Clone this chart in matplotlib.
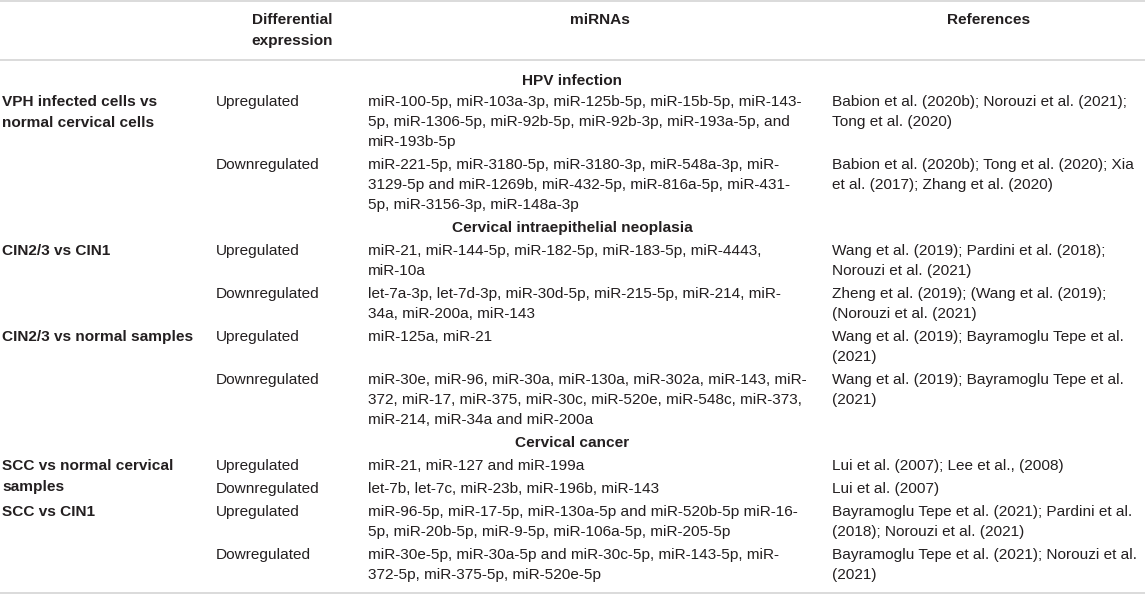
import matplotlib
matplotlib.use('Agg')

import matplotlib.pyplot as plt

# Table content
header_cols = ["", "Differential\nexpression", "miRNAs", "References"]

sections = ["HPV infection", "Cervical intraepithelial neoplasia", "Cervical cancer"]

row_section = [0, 0, 1, 1, 1, 1, 2, 2, 2, 2]

row_group = [
    "VPH infected cells vs\nnormal cervical cells",
    "",
    "CIN2/3 vs CIN1",
    "",
    "CIN2/3 vs normal samples",
    "",
    "SCC vs normal cervical\nsamples",
    "",
    "SCC vs CIN1",
    "",
]

row_expression = [
    "Upregulated", "Downregulated",
    "Upregulated", "Downregulated",
    "Upregulated", "Downregulated",
    "Upregulated", "Downregulated",
    "Upregulated", "Dowregulated",
]

row_mirnas = [
    "miR-100-5p, miR-103a-3p, miR-125b-5p, miR-15b-5p, miR-143-\n"
    "5p, miR-1306-5p, miR-92b-5p, miR-92b-3p, miR-193a-5p, and\n"
    "miR-193b-5p",
    "miR-221-5p, miR-3180-5p, miR-3180-3p, miR-548a-3p, miR-\n"
    "3129-5p and miR-1269b, miR-432-5p, miR-816a-5p, miR-431-\n"
    "5p, miR-3156-3p, miR-148a-3p",
    "miR-21, miR-144-5p, miR-182-5p, miR-183-5p, miR-4443,\n"
    "miR-10a",
    "let-7a-3p, let-7d-3p, miR-30d-5p, miR-215-5p, miR-214, miR-\n"
    "34a, miR-200a, miR-143",
    "miR-125a, miR-21",
    "miR-30e, miR-96, miR-30a, miR-130a, miR-302a, miR-143, miR-\n"
    "372, miR-17, miR-375, miR-30c, miR-520e, miR-548c, miR-373,\n"
    "miR-214, miR-34a and miR-200a",
    "miR-21, miR-127 and miR-199a",
    "let-7b, let-7c, miR-23b, miR-196b, miR-143",
    "miR-96-5p, miR-17-5p, miR-130a-5p and miR-520b-5p miR-16-\n"
    "5p, miR-20b-5p, miR-9-5p, miR-106a-5p, miR-205-5p",
    "miR-30e-5p, miR-30a-5p and miR-30c-5p, miR-143-5p, miR-\n"
    "372-5p, miR-375-5p, miR-520e-5p",
]

row_refs = [
    "Babion et al. (2020b); Norouzi et al. (2021);\nTong et al. (2020)",
    "Babion et al. (2020b); Tong et al. (2020); Xia\net al. (2017); Zhang et al. (2020)",
    "Wang et al. (2019); Pardini et al. (2018);\nNorouzi et al. (2021)",
    "Zheng et al. (2019); (Wang et al. (2019);\n(Norouzi et al. (2021)",
    "Wang et al. (2019); Bayramoglu Tepe et al.\n(2021)",
    "Wang et al. (2019); Bayramoglu Tepe et al.\n(2021)",
    "Lui et al. (2007); Lee et al., (2008)",
    "Lui et al. (2007)",
    "Bayramoglu Tepe et al. (2021); Pardini et al.\n(2018); Norouzi et al. (2021)",
    "Bayramoglu Tepe et al. (2021); Norouzi et al.\n(2021)",
]

# Layout (pixels)
W, H = 1145, 594
col_x = [2, 216, 368, 832, W]
line_h = 20
row_pad = 3
sec_h = 23
text_color = '#231f20'
rule_color = '#d4d4d4'
fs = 11.1

plt.rcParams['font.family'] = ['Liberation Sans', 'DejaVu Sans']

fig = plt.figure(figsize=(W / 100, H / 100), dpi=100)
ax = fig.add_axes([0, 0, 1, 1])
ax.set_xlim(0, W)
ax.set_ylim(H, 0)
ax.axis('off')


def draw_lines(x, y, text, ha='left', bold=False, pitch=line_h):
    lines = text.split('\n')
    for k, ln in enumerate(lines):
        ax.text(x, y + k * pitch, ln, ha=ha, va='center', fontsize=fs,
                color=text_color, fontweight='bold' if bold else 'normal')
    return len(lines)


# horizontal rules: top, under header, bottom
for yy in (1, 60, 593):
    ax.plot([0, W], [yy, yy], color=rule_color, lw=1.2, solid_capstyle='butt')

# header
for c in range(1, 4):
    cx = (col_x[c] + col_x[c + 1]) / 2
    draw_lines(cx, 20, header_cols[c], ha='center', bold=True, pitch=21)

y = 81
cur_sec = -1
for i in range(len(row_expression)):
    if row_section[i] != cur_sec:
        cur_sec = row_section[i]
        ax.text(W / 2, y, sections[cur_sec], ha='center', va='center', fontsize=fs,
                color=text_color, fontweight='bold')
        y += sec_h if cur_sec > 0 else 21
    if row_group[i]:
        draw_lines(col_x[0], y, row_group[i], bold=True, pitch=21)
    n1 = draw_lines(col_x[1], y, row_expression[i])
    n2 = draw_lines(col_x[2], y, row_mirnas[i])
    n3 = draw_lines(col_x[3], y, row_refs[i])
    y += max(n1, n2, n3) * line_h + row_pad

fig.savefig('out.png', dpi=100)
